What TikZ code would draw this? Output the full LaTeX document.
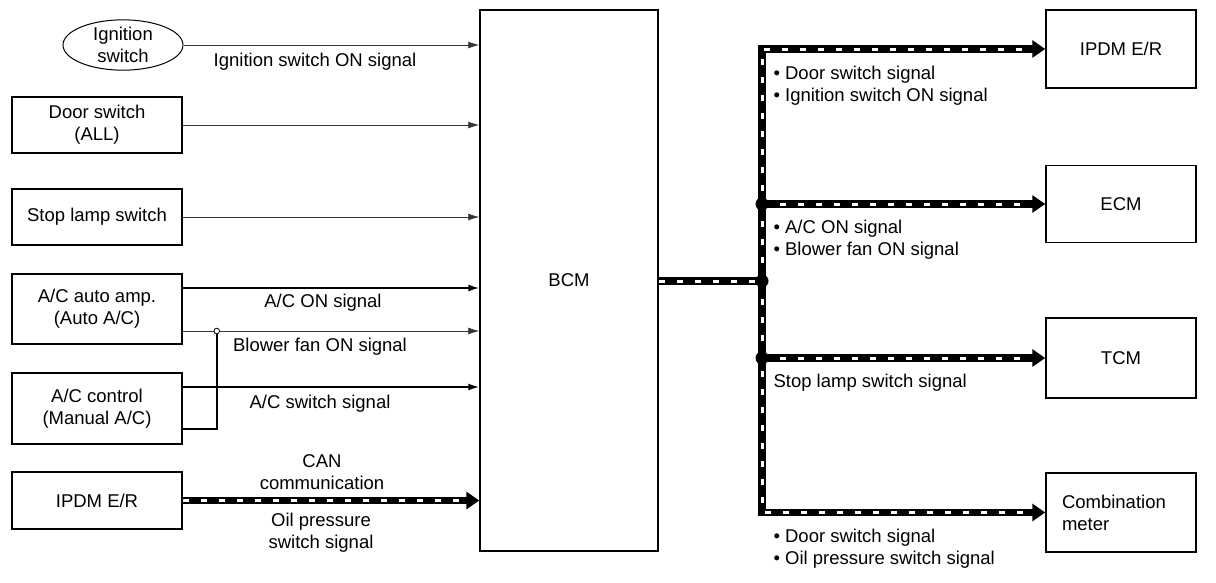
\documentclass[tikz,border=0pt]{standalone}
\usepackage{fontspec}
\setmainfont{Liberation Sans}
\usetikzlibrary{arrows.meta,shapes.geometric}

\tikzset{
  unit/.style={draw, line width=1.5pt, minimum width=170pt, align=center, inner sep=0pt},
  sig/.style={line width=1.6pt, -{Latex[length=11pt,width=7pt]}},
  thinsig/.style={line width=0.8pt, black!80, -{Latex[length=11pt,width=7pt]}},
  busline/.style={line width=7.5pt, postaction={draw=white, -, line width=3pt,
      dash pattern=on 6pt off 12pt, shorten >=#1}},
  busline/.default=0pt,
  bus/.style={busline=15pt, -{Triangle[length=13pt,width=17pt]}},
}

\begin{document}
\begin{tikzpicture}[x=1pt, y=-1pt, font=\fontsize{18.5}{22}\selectfont]
    \useasboundingbox (0,0) rectangle (1216,582);
    % inputs
    \node[draw, ellipse, line width=1pt, minimum width=120pt, minimum height=49pt,
      inner sep=0pt, align=center] (ign) at (123,45) {Ignition\\switch};
    \node[unit, minimum height=56pt] (door) at (97,125) {Door switch\\(ALL)};
    \node[unit, minimum height=56pt] (stop) at (97,217) {Stop lamp switch};
    \node[unit, minimum height=70pt] (acamp) at (97,309) {A/C auto amp.\\(Auto A/C)};
    \node[unit, minimum height=71pt] (acctrl) at (97,408.5) {A/C control\\(Manual A/C)};
    \node[unit, minimum height=57pt] (ipdml) at (97,500.5) {IPDM E/R};
    \node[unit, minimum width=178pt, minimum height=541pt] (bcm) at (569,280.5) {BCM};
    % outputs
    \node[unit, minimum width=150pt, minimum height=78pt] (ipdmr) at (1121,49) {IPDM E/R};
    \node[unit, minimum width=150pt, minimum height=77pt] (ecm) at (1121,204) {ECM};
    \node[unit, minimum width=150pt, minimum height=80pt] (tcm) at (1121,358) {TCM};
    \node[unit, minimum width=150pt, minimum height=79pt, text width=118pt,
      align=left] (meter) at (1121,512.5) {Combination\\meter};

    \draw[thinsig] (ign.east) -- (ign.east -| bcm.west);
    \draw[thinsig] (door.east) -- (door.east -| bcm.west);
    \draw[thinsig] (stop.east) -- (stop.east -| bcm.west);
    \coordinate (acon) at ([yshift=21pt]acamp.east);
    \coordinate (fan) at ([yshift=-22pt]acamp.east);
    \coordinate (tap) at ([xshift=34pt]fan);
    \coordinate (acsw) at ([yshift=21.5pt]acctrl.east);
    \coordinate (fanret) at ([yshift=-20.5pt]acctrl.east);
    \draw[sig] (acon) -- (acon -| bcm.west);
    \draw[thinsig] (fan) -- (fan -| bcm.west);
    \draw[sig] (acsw) -- (acsw -| bcm.west);
    \draw[line width=1.6pt] (fanret) -| (tap);
    \draw[fill=white, line width=0.8pt] (tap) circle (2.8pt);
    \draw[bus] (ipdml.east) -- (ipdml.east -| bcm.west);

    % CAN side
    \coordinate (hub) at (762,281);
    \draw[busline] (bcm.east |- hub) -- (hub);
    \draw[bus] (hub) |- (ipdmr.west);
    \draw[bus] (hub) |- (meter.west);
    \draw[bus] (ecm.west -| hub) -- (ecm.west);
    \draw[bus] (tcm.west -| hub) -- (tcm.west);
    \foreach \n in {ecm,tcm}{
        \fill (\n.west -| hub) circle (6.5pt);
      }
    \fill (hub) circle (6.5pt);

    \node (lign) at (315,62) {Ignition switch ON signal};
    \node (lacon) at (323,303) {A/C ON signal};
    \node (lfan) at (320,347) {Blower fan ON signal};
    \node (lacsw) at (320,404) {A/C switch signal};
    \node[align=center] (lcan) at (322,472) {CAN\\communication};
    \node[align=center] (loil) at (321,533) {Oil pressure\\switch signal};
    \node[right, align=left] (lipdm) at (770,86) {• Door switch signal\\• Ignition switch ON signal};
    \node[right, align=left] (lecm) at (770,240) {• A/C ON signal\\• Blower fan ON signal};
    \node[right] (ltcm) at (770,383) {Stop lamp switch signal};
    \node[right, align=left] (lmeter) at (770,549) {• Door switch signal\\• Oil pressure switch signal};
    % \fill[red] (hub) circle (2pt);
  \end{tikzpicture}
\end{document}
